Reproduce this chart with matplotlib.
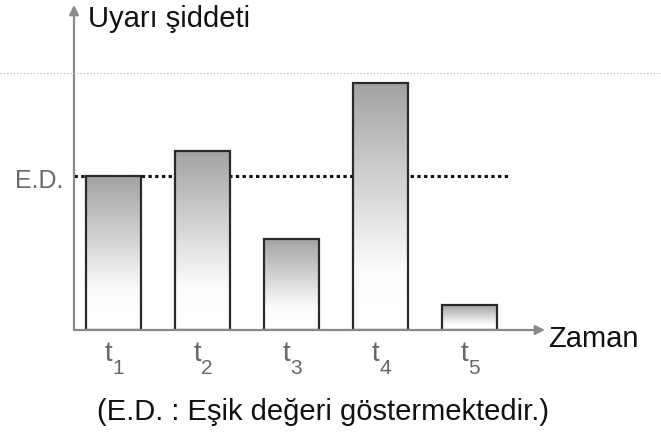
import numpy as np
import matplotlib.pyplot as plt
from matplotlib.colors import LinearSegmentedColormap
from matplotlib.lines import Line2D

plt.rcParams['font.family'] = ['Liberation Sans', 'DejaVu Sans']

# Stimulus intensity at each moment, and the threshold value (E.D.)
time_labels = ['1', '2', '3', '4', '5']
intensity = [5.0, 5.8, 2.95, 8.0, 0.8]
threshold = 5.0

W, H = 661, 434
fig = plt.figure(figsize=(W / 100, H / 100), dpi=100)
fig.patch.set_facecolor('white')

ax = fig.add_axes([74 / W, (H - 330) / H, (545 - 74) / W, (330 - 5) / H])
ax.axis('off')

pos = np.arange(1, len(intensity) + 1)
xlim = (0.556, 5.848)
ylim = (0, 325 / 30.9)

# threshold line runs behind the bars
ax.plot([xlim[0], 5.43], [threshold, threshold], color='#111111', lw=2.2,
        linestyle=(0, (1.1, 1.1)), zorder=1.5, solid_capstyle='butt')

bars = ax.bar(pos, intensity, width=0.62, facecolor='none',
              edgecolor='#2a2a2a', linewidth=1.6, zorder=3)

shade = LinearSegmentedColormap.from_list(
    'shade', [(0.0, '#ffffff'), (0.25, '#fbfbfb'), (0.6, '#d2d2d2'), (1.0, '#a2a2a2')])
grad = np.linspace(0, 1, 256).reshape(-1, 1)
for b in bars:
    x0, y0, w, h = b.get_x(), b.get_y(), b.get_width(), b.get_height()
    ax.imshow(grad, extent=(x0, x0 + w, y0, y0 + h), origin='lower',
              cmap=shade, vmin=0, vmax=1, aspect='auto', zorder=2,
              interpolation='bilinear')

ax.set_xlim(*xlim)
ax.set_ylim(*ylim)

# axes drawn as arrows
arrow_kw = dict(arrowstyle='-|>', color='#8a8a8a', lw=1.6, mutation_scale=14,
                shrinkA=0, shrinkB=0)
ax.annotate('', xy=(0, 1), xytext=(0, 0), xycoords='axes fraction',
            arrowprops=arrow_kw, annotation_clip=False)
ax.annotate('', xy=(1, 0), xytext=(0, 0), xycoords='axes fraction',
            arrowprops=arrow_kw, annotation_clip=False)

# faint dotted guide across the top
fig.add_artist(Line2D([0, 1], [1 - 73 / H] * 2, transform=fig.transFigure,
                      color='#b0b0b0', lw=0.8, linestyle=(0, (1, 2))))

# time labels t1..t5
for p, lab in zip(pos, time_labels):
    ax.annotate('t', xy=(p, 0), xytext=(-4.0, -22), textcoords='offset points',
                ha='center', va='baseline', fontsize=20, color='#666666',
                fontweight='light', annotation_clip=False)
    ax.annotate(lab, xy=(p, 0), xytext=(3.2, -32), textcoords='offset points',
                ha='center', va='baseline', fontsize=15, color='#666666',
                fontweight='light', annotation_clip=False)

def ftext(x, y, s, **kw):
    fig.text(x / W, 1 - y / H, s, **kw)

ftext(88, 27, 'Uyarı şiddeti', fontsize=21, color='#111111', va='baseline', ha='left')
ftext(548, 347, 'Zaman', fontsize=21, color='#111111', va='baseline', ha='left')
ftext(15, 188, 'E.D.', fontsize=18, color='#6a6a6a', va='baseline', ha='left',
      fontweight='light')
ftext(323, 420, '(E.D. : Eşik değeri göstermektedir.)', fontsize=21,
      color='#111111', va='baseline', ha='center')

fig.savefig('out.png', dpi=100, facecolor='white')
